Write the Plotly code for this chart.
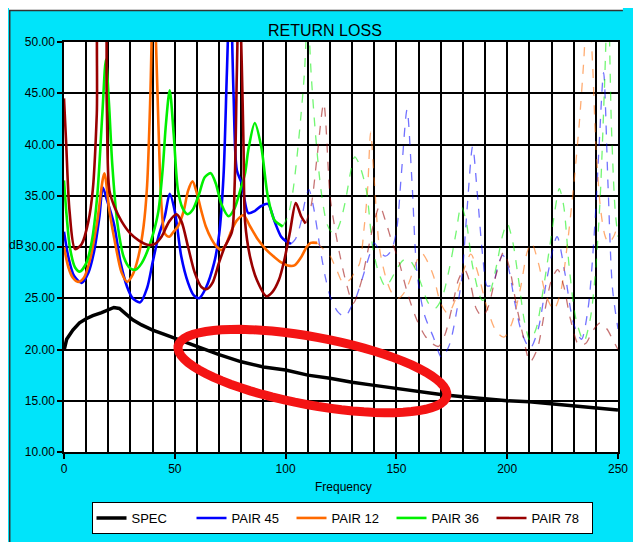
import math
import plotly.graph_objects as go

# ---------------- data ----------------
SPEC_X = [0, 1.2, 4, 7, 10, 13, 17, 20, 22.5, 25, 28, 31, 35, 40, 45, 50, 60, 70, 80, 90, 100,
          110, 120, 130, 140, 150, 160, 170, 180, 190, 200, 210, 220, 230, 240, 250]
SPEC_Y = [19.9, 21.0, 21.9, 22.6, 23.0, 23.3, 23.6, 23.9, 24.1, 24.0, 23.4, 22.9, 22.4, 21.9, 21.5,
          21.1, 20.3, 19.5, 18.8, 18.3, 18.0, 17.5, 17.2, 16.8, 16.5, 16.2, 15.9, 15.6, 15.4, 15.2,
          15.0, 14.9, 14.7, 14.5, 14.3, 14.1]

# PAIR 45 (blue)
P45_X_A = [0, 2, 4.5, 8, 11, 13.5, 16, 17.5, 19.5, 22.5, 25.5, 28.5, 31, 34.4, 37.5, 40, 42.6, 45.5,
           47.7, 50, 52.9, 56, 58.5, 61, 64, 67.7, 70, 72, 73.5, 75, 76.5, 78, 80.2, 83.2, 86, 89,
           92, 95, 98, 100, 102.4]
P45_Y_A = [31.5, 29, 27.2, 26.5, 27.5, 29.5, 33, 35.8, 34.5, 32.3, 28.5, 26.1, 25, 24.6, 26, 28.5,
           31, 33, 35.2, 33.5, 29.1, 26.5, 25.3, 25, 26, 28.4, 31.2, 37, 47, 56, 45, 37.5, 36.2,
           33.3, 33.5, 34, 34.2, 32.5, 31, 30.6, 30.3]
P45_X_B = [102.4, 104.5, 106.8, 108.8, 110.5, 112.5, 115.7, 118, 120.1, 123.5, 126.8, 129.7, 132,
           135, 138, 140, 142.5, 145, 147.5, 150, 152.2, 154.8, 157, 159.3, 162.5, 166.7, 170.5,
           174, 177, 179.5, 182, 184.4, 186.6, 189, 191, 193.5, 196, 198, 200.5, 203.5, 206.5,
           210.3, 214, 218, 222.5, 226, 230, 233.5, 236.5, 239.5, 241.5, 243.5, 245.5, 247.5, 250]
P45_Y_B = [30.3, 30.8, 32.3, 34.5, 35.6, 34, 29.7, 27, 25.2, 23.7, 23.2, 24.2, 25.2, 27.2, 29.3,
           30.4, 29.6, 29.1, 29.6, 31.5, 37, 43.4, 36.5, 27.5, 23.5, 21.2, 19.2, 20.5, 23.5, 27,
           34, 39.8, 35, 29, 26.2, 26.4, 28.3, 29.2, 28, 24.5, 21.7, 20.1, 22, 27, 31, 27.5, 22.5,
           21, 24, 32, 40, 47, 36, 26, 22]

# PAIR 12 (orange)
P12_X_A = [0, 2, 4, 6.4, 9, 12, 15, 18.2, 20.5, 23.4, 26, 28.5, 31, 33.5, 35.9, 37.5, 39, 40.3,
           41.5, 42.6, 44, 45.5, 47.5, 49.5, 51.4, 54, 56, 58, 60, 62, 64, 66.5, 69, 71, 73, 75,
           78, 81, 84, 87.6, 91, 95, 98, 101, 104, 107, 109.5, 111.3, 114.2]
P12_Y_A = [30, 28, 27, 26.6, 27, 29, 32.5, 37.2, 33.5, 30, 27.5, 26.6, 27.3, 29, 32, 36, 45, 56,
           50, 42, 34, 31.3, 31, 31.5, 32, 33.5, 35.5, 36.4, 35.2, 33.5, 32, 30.8, 30, 29.7, 30.2,
           31.3, 32.6, 33.1, 32, 30.7, 29.8, 29, 28.5, 28.2, 28.2, 29, 30, 30.4, 30.4]
P12_X_B = [114.2, 117, 120.1, 123, 126, 129, 131, 133.4, 135.5, 137, 138.4, 140, 142.3, 145, 148,
           151, 154, 157, 159.5, 161.5, 164, 166.7, 170, 173.3, 176.5, 180, 183.6, 187, 191, 195,
           198.5, 202, 206, 209, 211, 214, 217.5, 221, 224, 227, 230, 232.5, 234.5, 236.5, 238.5,
           240, 242, 244, 245.7, 248, 250]
P12_Y_B = [30.4, 29.8, 29.1, 27.8, 26.5, 26.8, 27.5, 28.4, 32, 35.6, 41.2, 36.5, 30, 27.2, 25.5, 25,
           25.7, 27.3, 28.8, 29.4, 28.6, 27.2, 24.5, 23.5, 24.8, 27.5, 29.3, 27.3, 24, 21.8, 21.2,
           22.5, 26, 29.5, 30.4, 28.5, 25.3, 23.9, 25.5, 30, 36, 42, 48, 55, 48, 40, 34, 31.2,
           30.4, 31, 32.3]

# PAIR 36 (green)
P36_X_A = [0, 1.2, 2.7, 5, 7.1, 10, 12.5, 15, 17.3, 18.9, 20.3, 21.8, 24, 27, 30, 32.5, 35, 38,
           40.5, 42.6, 44.5, 46, 47.7, 49.5, 51.4, 53.5, 55.8, 58, 61, 63.5, 66.2, 68.5, 71, 74.3,
           77, 79.5, 81.7, 83.2, 86.1, 89, 92, 95, 98.7]
P36_Y_A = [36.5, 33, 29.9, 28, 27.6, 28.4, 30.5, 35, 43, 48.3, 44, 38, 32.5, 29, 27.9, 27.8, 28.4,
           29.8, 31.5, 33.5, 37.5, 42, 45.3, 41, 35.6, 33.8, 33.2, 33.6, 35.2, 36.8, 37.2, 36.2,
           34.2, 33, 33.8, 35.5, 37.2, 39.5, 42.1, 39.8, 34.9, 32.6, 32]
P36_X_B = [98.7, 101, 103, 105, 107, 108.5, 110, 111.5, 113.5, 116, 118.6, 120.5, 122.3, 124.5, 127,
           129.5, 131.2, 133, 136.4, 139.3, 142, 145.2, 147.5, 150, 153, 155.6, 158, 161, 164.5,
           167.4, 170.5, 174, 177, 179.2, 181.5, 184.5, 188.8, 192, 195, 198, 200, 202.5, 205, 208,
           210.3, 213, 216, 219.5, 221.5, 223.5, 225.5, 228, 231, 234.6, 237.5, 240, 242, 243.8,
           245.5, 247, 248.7, 250]
P36_Y_B = [32, 33, 35, 38.5, 43, 47, 53, 47, 41, 35.5, 32.3, 31.5, 31.3, 32.3, 34.5, 37.5, 38.8,
           38.2, 35.6, 30, 27.5, 26.1, 26.8, 27.8, 28.7, 28.8, 28.1, 26.5, 24.5, 24, 25, 28, 31.5,
           34, 32.5, 28, 24.8, 25.5, 28, 31.2, 32.3, 30.5, 27, 22.5, 20.9, 22, 25.5, 30.5, 33.5,
           35.7, 34, 28, 23, 20.8, 23, 28, 35, 45, 55, 42, 33.6, 31]

# PAIR 78 (dark red)
P78_X_A = [0, 1, 2.5, 5, 8, 11, 13, 14.8, 16.2, 17.8, 19.3, 20.5, 23, 26, 30, 34, 38, 41, 44, 47.5,
           50.7, 53, 56, 59, 62, 64.5, 67, 70, 72.5, 75.8, 77, 78, 79, 80.2, 81, 81.7, 84, 87,
           91.3, 94, 97, 99.5, 102, 104.6, 107, 109]
P78_Y_A = [44.5, 40, 33.5, 29.8, 30.3, 32.5, 35.6, 43, 56, 56, 44, 35.5, 33.8, 32.5, 31.3, 30.6,
           30.2, 30.3, 31, 32.5, 33.2, 32.5, 30, 27.5, 26.1, 25.9, 26.5, 28.5, 30, 31.5, 36, 47,
           56, 48, 40, 32.5, 29, 26.8, 25.2, 25.6, 26.8, 28.8, 31.5, 34.3, 33, 32.3]
P78_X_B = [109, 111.5, 114.2, 117.2, 120.1, 122.5, 124.6, 127, 130.5, 134, 137, 140, 142.5, 145, 148,
           151, 155, 159, 163, 166, 169, 172, 175.5, 178, 180.7, 183.5, 186, 188.8, 191.5, 195,
           198.4, 201, 204, 207, 210.3, 213.5, 217, 220, 222.8, 225.5, 228.5, 232.4, 235.5, 238.5,
           242, 245, 248, 250]
P78_Y_B = [32.3, 34, 38.8, 44, 34.9, 31.5, 29.1, 26.8, 24.5, 26.5, 29.5, 32.5, 34, 32.6, 30.5,
           28.7, 25.5, 23, 21.3, 20.6, 20.3, 21.5, 24.5, 26.8, 27.8, 26.3, 24, 23.2, 24.2, 27.3,
           29.5, 28, 24.5, 21.5, 18.8, 20, 23.8, 26.8, 27.8, 26.2, 23, 20.4, 20.6, 21.8, 22.6, 22,
           20.8, 20]

SERIES = [
    ("PAIR 45", "#0000FF", P45_X_A, P45_Y_A, P45_X_B, P45_Y_B),
    ("PAIR 12", "#FF6A00", P12_X_A, P12_Y_A, P12_X_B, P12_Y_B),
    ("PAIR 36", "#00F000", P36_X_A, P36_Y_A, P36_X_B, P36_Y_B),
    ("PAIR 78", "#990000", P78_X_A, P78_Y_A, P78_X_B, P78_Y_B),
]

X_TICKS = [0, 50, 100, 150, 200, 250]
Y_TICKS = [10, 15, 20, 25, 30, 35, 40, 45, 50]

# ---------------- layout constants ----------------
OFF = 8                      # page body margin: figure starts at page (8, 8)
W, H = 625, 534              # fits the 641x550 window (minus body margins)
ML, MR, MT, MB = 56, 5, 34, 90
PW, PH = W - ML - MR, H - MT - MB
X_RANGE = [0, 250]
Y_RANGE = [10, 50]
CYAN = "#00E4FA"
FONT = "Liberation Sans, Arial, sans-serif"


def px_x(px):
    """page pixel x -> paper fraction"""
    return (px - OFF - ML) / PW


def px_y(py):
    """page pixel y -> paper fraction"""
    return (H - MB - (py - OFF)) / PH


fig = go.Figure()

fig.add_trace(go.Scatter(x=SPEC_X, y=SPEC_Y, mode="lines", name="SPEC",
                         line=dict(color="#000000", width=3.5)))

for name, color, xa, ya, xb, yb in SERIES:
    fig.add_trace(go.Scatter(x=xa, y=ya, mode="lines", name=name, legendgroup=name,
                             line=dict(color=color, width=2.6, shape="spline", smoothing=0.8)))
    fig.add_trace(go.Scatter(x=xb, y=yb, mode="lines", name=name, legendgroup=name,
                             showlegend=False, opacity=0.55,
                             line=dict(color=color, width=1.3, shape="spline", smoothing=0.8,
                                       dash="dash")))

# red hand-drawn ellipse highlight
ELL_CENTER = (112.1, 17.9)      # data units
ELL_AXES_PX = (139, 34)         # semi axes in pixels
ELL_ANGLE = math.radians(10.3)  # tilt, right end lower
sx = PW / (X_RANGE[1] - X_RANGE[0])
sy = PH / (Y_RANGE[1] - Y_RANGE[0])
pts = []
for i in range(73):
    t = 2 * math.pi * i / 72
    dx = ELL_AXES_PX[0] * math.cos(t) * math.cos(ELL_ANGLE) - ELL_AXES_PX[1] * math.sin(t) * math.sin(ELL_ANGLE)
    dy = ELL_AXES_PX[0] * math.cos(t) * math.sin(ELL_ANGLE) + ELL_AXES_PX[1] * math.sin(t) * math.cos(ELL_ANGLE)
    pts.append((ELL_CENTER[0] + dx / sx, ELL_CENTER[1] - dy / sy))
path = "M " + " L ".join(f"{x:.3f},{y:.3f}" for x, y in pts) + " Z"

shapes = [
    dict(type="path", xref="x", yref="y", path=path, line=dict(color="#F41414", width=9),
         layer="above"),
    # white strip at the top, then the dark frame line of the chart area
    dict(type="rect", xref="paper", yref="paper", x0=px_x(OFF), x1=px_x(OFF + W),
         y0=px_y(10), y1=px_y(OFF), fillcolor="white", line=dict(width=0), layer="below"),
    dict(type="line", xref="paper", yref="paper", x0=px_x(OFF), x1=px_x(OFF + W),
         y0=px_y(10.5), y1=px_y(10.5), line=dict(color="#333333", width=1.5)),
    dict(type="line", xref="paper", yref="paper", x0=px_x(OFF + 0.75), x1=px_x(OFF + 0.75),
         y0=px_y(10.5), y1=px_y(OFF + H), line=dict(color="#333333", width=1.5)),
]

annotations = [
    dict(text="RETURN LOSS", xref="paper", yref="paper", x=px_x(330), y=px_y(31),
         xanchor="center", yanchor="middle", showarrow=False,
         font=dict(family=FONT, size=16, color="#000000")),
    dict(text="Frequency", xref="paper", yref="paper", x=px_x(349), y=px_y(487),
         xanchor="center", yanchor="middle", showarrow=False,
         font=dict(family=FONT, size=12, color="#000000")),
    dict(text="dB", xref="paper", yref="paper", x=px_x(16), y=px_y(245),
         xanchor="center", yanchor="middle", showarrow=False,
         font=dict(family=FONT, size=12, color="#000000")),
]

axis_common = dict(showline=True, linecolor="#000000", linewidth=1.5, mirror=True,
                   ticks="outside", ticklen=5, tickcolor="#000000", tickwidth=1.5,
                   showgrid=True, gridcolor="#000000", gridwidth=2, zeroline=False,
                   tickfont=dict(family=FONT, size=12, color="#000000"), fixedrange=True)

fig.update_layout(
    width=W, height=H,
    margin=dict(l=ML, r=MR, t=MT, b=MB, pad=0),
    paper_bgcolor=CYAN, plot_bgcolor="#FFFFFF",
    font=dict(family=FONT, color="#000000"),
    xaxis=dict(range=X_RANGE, tickvals=X_TICKS, ticklabeloverflow="allow",
               minor=dict(dtick=10, tick0=0, showgrid=True, gridcolor="#000000", gridwidth=2),
               **axis_common),
    yaxis=dict(range=Y_RANGE, tickvals=Y_TICKS, tickformat=".2f", **axis_common),
    showlegend=True,
    legend=dict(orientation="h", x=px_x(92), y=px_y(502), xanchor="left", yanchor="top",
                bgcolor="#FFFFFF", bordercolor="#000000", borderwidth=1,
                font=dict(family=FONT, size=13, color="#000000"),
                entrywidth=55, entrywidthmode="pixels", itemwidth=30, tracegroupgap=0),
    shapes=shapes,
    annotations=annotations,
)

fig.write_html("out.html")
